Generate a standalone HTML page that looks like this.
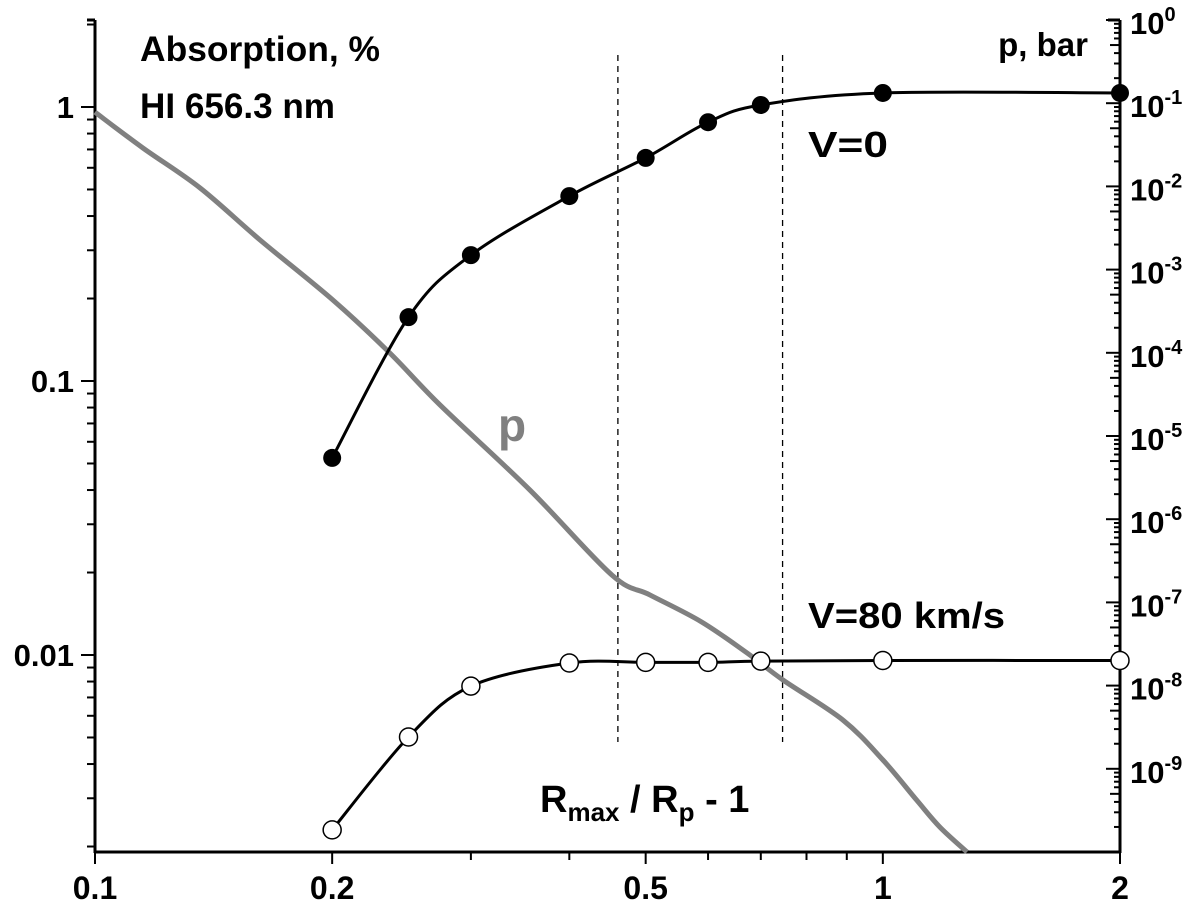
<!DOCTYPE html>
<html><head><meta charset="utf-8"><style>
html,body{margin:0;padding:0;background:#fff;}
svg{display:block;font-family:"Liberation Sans",Arial,sans-serif;font-weight:bold;}
</style></head><body>
<svg id="chart" width="1200" height="911" viewBox="0 0 1200 911"></svg>
<script>
// ---- data ----
const v0X = [0.2, 0.25, 0.3, 0.4, 0.5, 0.6, 0.7, 1, 2];
const v0Y = [0.0524, 0.171, 0.288, 0.473, 0.652, 0.88, 1.017, 1.125, 1.125];
const v80X = [0.2, 0.25, 0.3, 0.4, 0.5, 0.6, 0.7, 1, 2];
const v80Y = [0.0023, 0.00502, 0.0077, 0.00935, 0.0094, 0.0094, 0.0095, 0.00955, 0.00955];
const pX = [0.1, 0.115, 0.1359, 0.162, 0.2004, 0.2367, 0.2741, 0.3565, 0.4531, 0.5062, 0.5874, 0.6712, 0.7467, 0.8897, 1.0, 1.104, 1.181, 1.279];
const pY = [7.8e-2, 2.9e-2, 9.6e-3, 2.27e-3, 4.31e-4, 9.95e-5, 2.36e-5, 2.24e-6, 2.13e-7, 1.23e-7, 5.9e-8, 2.5e-8, 1.17e-8, 3.86e-9, 1.28e-9, 4.2e-10, 2.0e-10, 1.0e-10];
const dashX = [0.461, 0.746];
const xTicks = [0.1, 0.2, 0.5, 1, 2];
const xTickLabels = ["0.1", "0.2", "0.5", "1", "2"];
const yLeftTicks = [1, 0.1, 0.01];
const yLeftLabels = ["1", "0.1", "0.01"];
const yRightExps = [0, -1, -2, -3, -4, -5, -6, -7, -8, -9];

// ---- axes ----
const X0 = 95, X1 = 1120, Y0 = 852, Y1 = 20;
const xs = v => X0 + (Math.log10(v) + 1) * (X1 - X0) / Math.log10(20);
const yl = v => 107 - Math.log10(v) * 274;
const yr = v => Y1 - Math.log10(v) * 83.2;

const svg = document.getElementById('chart');
const NS = 'http://www.w3.org/2000/svg';
function mk(tag, attrs, parent) {
  const e = document.createElementNS(NS, tag);
  for (const k in attrs) e.setAttribute(k, attrs[k]);
  (parent || svg).appendChild(e);
  return e;
}
function txt(s, x, y, size, anchor, fill, name, len) {
  const a = {x: x, y: y, 'font-size': size, 'text-anchor': anchor || 'start', fill: fill || '#000'};
  if (len) { a.textLength = len; a.lengthAdjust = 'spacingAndGlyphs'; }
  const t = mk('text', a);
  t.textContent = s;
  
  
  return t;
}
function smooth(pts) {
  let d = 'M' + pts[0][0] + ',' + pts[0][1];
  for (let i = 0; i < pts.length - 1; i++) {
    const p0 = pts[i - 1] || pts[i], p1 = pts[i], p2 = pts[i + 1], p3 = pts[i + 2] || p2;
    const c1 = [p1[0] + (p2[0] - p0[0]) / 6, p1[1] + (p2[1] - p0[1]) / 6];
    const c2 = [p2[0] - (p3[0] - p1[0]) / 6, p2[1] - (p3[1] - p1[1]) / 6];
    d += ' C' + c1 + ' ' + c2 + ' ' + p2;
  }
  return d;
}

const ax = mk('g', {stroke: '#000', 'stroke-width': 3, fill: 'none'});


mk('line', {x1: X0, y1: Y1, x2: X0, y2: Y0 + 1}, ax);
mk('line', {x1: X1, y1: Y1, x2: X1, y2: Y0 + 1}, ax);
mk('line', {x1: X0 - 1, y1: Y0, x2: X1 + 1, y2: Y0}, ax);
mk('line', {x1: X0, y1: Y1, x2: X0 - 8, y2: Y1}, ax);
mk('line', {x1: X1, y1: Y1, x2: X1 - 12, y2: Y1}, ax);

const tk = mk('g', {stroke: '#000', 'stroke-width': 2});


for (let d = 0.1; d < 2; d *= 10) {
  for (let m = 1; m < 10; m++) {
    const v = d * m; if (v > 2.0001) break;
    const major = xTicks.some(t => Math.abs(t - v) < 1e-9);
    mk('line', {x1: xs(v), y1: Y0, x2: xs(v), y2: Y0 + (major ? 12 : 8)}, tk);
  }
}
mk('line', {x1: xs(2), y1: Y0, x2: xs(2), y2: Y0 + 12}, tk);
xTicks.forEach((v, i) => txt(xTickLabels[i], xs(v), 899, 32, 'middle', '#000', 'x-tick-label'));

for (let d = 0.001; d < 10; d *= 10) {
  for (let m = 1; m < 10; m++) {
    const v = d * m; const y = yl(v);
    if (y < Y1 - 0.5 || y > Y0) continue;
    mk('line', {x1: X0, y1: y, x2: X0 - (m === 1 ? 14 : 8), y2: y}, tk);
  }
}
yLeftTicks.forEach((v, i) => txt(yLeftLabels[i], 74, yl(v) + 11, 31, 'end', '#000', 'y-left-tick-label'));

for (let e = -10; e <= 0; e++) {
  for (let m = 1; m < 10; m++) {
    const v = m * Math.pow(10, e); const y = yr(v);
    if (y < Y1 - 0.5 || y > Y0) continue;
    mk('line', {x1: X1, y1: y, x2: X1 - (m === 1 ? 14 : (m === 5 ? 10 : 6)), y2: y}, tk);
  }
}
yRightExps.forEach(e => {
  const t = mk('text', {x: 1130, y: yr(Math.pow(10, e)) + 14, 'font-size': 31});
  
  
  t.textContent = '10';
  const s = mk('tspan', {dy: -13, 'font-size': 20}, t);
  s.textContent = String(e);
});

dashX.forEach(v => {
  const l = mk('line', {x1: xs(v), y1: 55, x2: xs(v), y2: 742, stroke: '#000', 'stroke-width': 1.3, 'stroke-dasharray': '6,5'});
  
  
});

const pPath = mk('path', {d: smooth(pX.map((v, i) => [xs(v), yr(pY[i])])), fill: 'none', stroke: '#808080', 'stroke-width': 5, 'stroke-linejoin': 'round'});



const l0 = mk('path', {d: smooth(v0X.map((v, i) => [xs(v), yl(v0Y[i])])), fill: 'none', stroke: '#000', 'stroke-width': 3});


v0X.forEach((v, i) => {
  const c = mk('circle', {cx: xs(v), cy: yl(v0Y[i]), r: 9, fill: '#000'});
  
  
});
const l80 = mk('path', {d: smooth(v80X.map((v, i) => [xs(v), yl(v80Y[i])])), fill: 'none', stroke: '#000', 'stroke-width': 3});


v80X.forEach((v, i) => {
  const c = mk('circle', {cx: xs(v), cy: yl(v80Y[i]), r: 9, fill: '#fff', stroke: '#000', 'stroke-width': 1.5});
  
  
});

txt('Absorption, %', 140, 61, 35, 'start', '#000', 'left-axis-title', 240);
txt('HI 656.3 nm', 140, 118, 35, 'start', '#000', 'line-label', 195);
txt('p, bar', 1088, 56, 33, 'end', '#000', 'right-axis-title');
txt('V=0', 808, 157, 36, 'start', '#000', 'v0-label', 80);
txt('V=80 km/s', 808, 628, 36, 'start', '#000', 'v80-label', 197);
txt('p', 498, 441, 46, 'start', '#808080', 'p-curve-label');
const xt = mk('text', {x: 540, y: 812, 'font-size': 38});


xt.innerHTML = 'R<tspan dy="9" font-size="26">max</tspan><tspan dy="-9"> / R</tspan><tspan dy="9" font-size="26">p</tspan><tspan dy="-9"> - 1</tspan>';
</script>
</body></html>
